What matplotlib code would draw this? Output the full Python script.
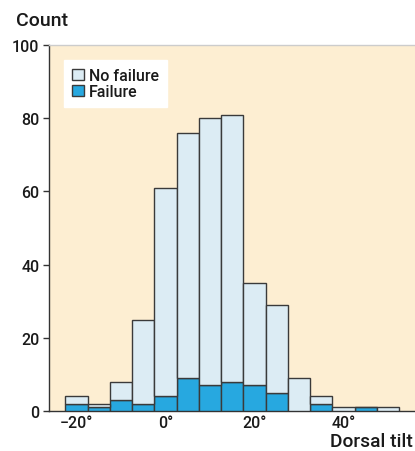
import matplotlib
matplotlib.use("Agg")
import matplotlib.pyplot as plt
import numpy as np

plt.rcParams['font.family'] = ['Roboto', 'DejaVu Sans']
plt.rcParams['font.weight'] = 'medium'

bin_centers = [-20, -15, -10, -5, 0, 5, 10, 15, 20, 25, 30, 35, 40, 45, 50]
total_counts = [4, 2, 8, 25, 61, 76, 80, 81, 35, 29, 9, 4, 1, 1, 1]
failure_counts = [2, 1, 3, 2, 4, 9, 7, 8, 7, 5, 0, 2, 0, 1, 0]
no_failure_counts = [t - f for t, f in zip(total_counts, failure_counts)]
x_ticks = [-20, 0, 20, 40]
x_tick_labels = ['\u221220\u00b0', '0\u00b0', '20\u00b0', '40\u00b0']
y_ticks = [0, 20, 40, 60, 80, 100]

fig = plt.figure(figsize=(4.15, 4.52), dpi=100)
ax = fig.add_axes([49/415, 1-412/452, 1-49/415, (412-46)/452])
ax.set_facecolor('#fdeed2')

edge = '#3a3a3a'
ax.bar(bin_centers, failure_counts, width=5, color='#27a8e0', edgecolor=edge, linewidth=1.0,
       label='Failure', zorder=3)
ax.bar(bin_centers, no_failure_counts, width=5, bottom=failure_counts, color='#dcecf4',
       edgecolor=edge, linewidth=1.0, label='No failure', zorder=3)

ax.set_xlim(-26.2, 56.1)
ax.set_ylim(0, 100)
ax.set_xticks(x_ticks)
ax.set_xticklabels(x_tick_labels, fontsize=11.5)
ax.set_yticks(y_ticks)
ax.set_yticklabels([str(v) for v in y_ticks], fontsize=11.5)
ax.tick_params(axis='x', length=0, pad=3, colors='#1a1a1a')
ax.tick_params(axis='y', length=4, width=1, pad=3, colors='#1a1a1a', direction='out')
ax.tick_params(axis='y', color='#333333')

ax.spines['right'].set_visible(False)
ax.spines['top'].set_color('#cccccc')
ax.spines['top'].set_linewidth(1)
for s in ['left', 'bottom']:
    ax.spines[s].set_color('#333333')
    ax.spines[s].set_linewidth(1)

handles, labels = ax.get_legend_handles_labels()
leg = ax.legend(handles[::-1], labels[::-1], loc='upper left', bbox_to_anchor=(0.041, 0.959),
                frameon=True, fancybox=False, framealpha=1, edgecolor='white',
                fontsize=11.5, handlelength=0.75, handleheight=0.72, handletextpad=0.3,
                labelspacing=0.08, borderpad=0.5, borderaxespad=0)
for t in leg.get_texts():
    t.set_color('#1a1a1a')

fig.text(16/415, 1-26.5/452, 'Count', fontsize=14, va='baseline', ha='left', color='#1a1a1a')
fig.text(413/415, 1-451.5/452, 'Dorsal tilt', fontsize=13.8, va='bottom', ha='right', color='#1a1a1a')

fig.savefig('out.png', dpi=100)
